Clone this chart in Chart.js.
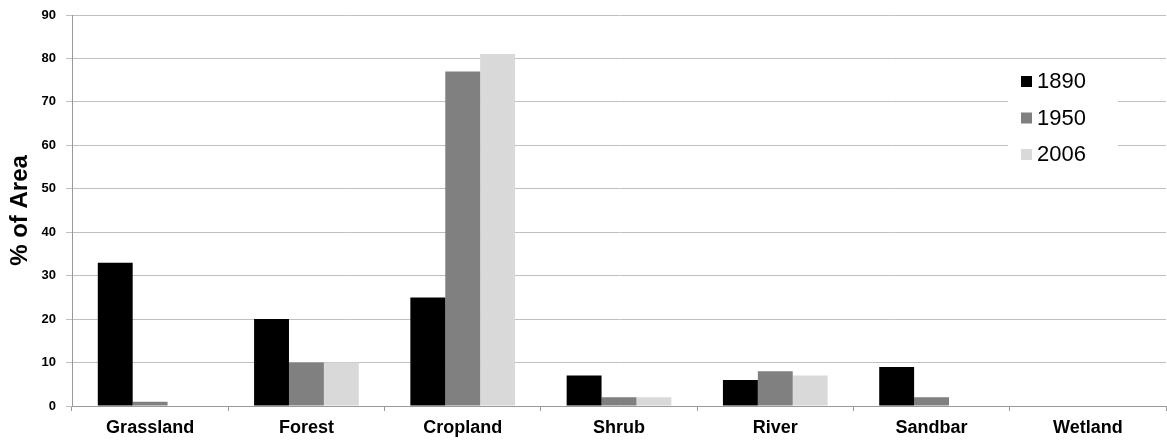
<!DOCTYPE html>
<html>
<head>
<meta charset="utf-8">
<script src="https://cdn.jsdelivr.net/npm/chart.js@4/dist/chart.umd.min.js"></script>
<style>
  html, body { margin: 0; padding: 0; background: #fff; }
  #wrap { width: 1167px; height: 440px; }
</style>
</head>
<body>
<div id="wrap"><canvas id="c" width="1167" height="440"></canvas></div>
<script>
// Land cover categories and share of area (%) by survey year
const categories = ['Grassland', 'Forest', 'Cropland', 'Shrub', 'River', 'Sandbar', 'Wetland'];
const years = ['1890', '1950', '2006'];
const area1890 = [33, 20, 25, 7, 6, 9, 0];
const area1950 = [1, 10, 77, 2, 8, 2, 0];
const area2006 = [0, 10, 81, 2, 7, 0, 0];
const yTicks = [0, 10, 20, 30, 40, 50, 60, 70, 80, 90];

const barColors = ['#000000', '#808080', '#d9d9d9'];
const FONT = '"Liberation Sans", Arial, sans-serif';

// Boxed legend drawn inside the plot area, over the gridlines
const boxLegend = {
  id: 'boxLegend',
  afterDraw(chart) {
    const ctx = chart.ctx;
    ctx.save();
    ctx.fillStyle = '#ffffff';
    ctx.fillRect(1008, 63, 110, 108);
    ctx.font = '22px ' + FONT;
    ctx.textBaseline = 'middle';
    chart.data.datasets.forEach((ds, i) => {
      const y = 81 + i * 36.5;
      ctx.fillStyle = ds.backgroundColor;
      ctx.fillRect(1021, y - 5, 11, 11);
      ctx.fillStyle = '#000000';
      ctx.fillText(ds.label, 1037, y + 1);
    });
    ctx.restore();
  }
};

new Chart(document.getElementById('c'), {
  type: 'bar',
  data: {
    labels: categories,
    datasets: [
      { label: years[0], data: area1890, backgroundColor: barColors[0] },
      { label: years[1], data: area1950, backgroundColor: barColors[1] },
      { label: years[2], data: area2006, backgroundColor: barColors[2] }
    ]
  },
  options: {
    responsive: false,
    animation: false,
    devicePixelRatio: 1,
    categoryPercentage: 0.67,
    barPercentage: 1.0,
    layout: { padding: { top: 15, right: 1, left: 0, bottom: 0 } },
    plugins: {
      legend: { display: false },
      tooltip: { enabled: false }
    },
    scales: {
      x: {
        grid: {
          offset: true,
          drawOnChartArea: false,
          drawTicks: true,
          tickLength: 5,
          color: '#9a9a9a'
        },
        border: { display: true, color: '#9a9a9a', width: 1 },
        ticks: {
          color: '#000000',
          padding: 6,
          maxRotation: 0,
          autoSkip: false,
          font: { family: FONT, size: 18, weight: 'bold' }
        },
        afterFit(scale) { scale.height = 34; }
      },
      y: {
        min: 0,
        max: 90,
        afterBuildTicks(scale) { scale.ticks = yTicks.map(v => ({ value: v })); },
        grid: {
          color: '#c0c0c0',
          drawTicks: true,
          tickLength: 6
        },
        border: { display: true, color: '#9a9a9a', width: 1 },
        ticks: {
          color: '#000000',
          padding: 10,
          font: { family: FONT, size: 13, weight: 'bold' }
        },
        title: {
          display: true,
          text: '% of Area',
          color: '#000000',
          padding: { top: 6, bottom: 0 },
          font: { family: FONT, size: 24, weight: 'bold' }
        },
        afterFit(scale) {
          scale.width = 72;
          scale.paddingTop = 8;
          scale.paddingBottom = 8;
        }
      }
    }
  },
  plugins: [boxLegend]
});
</script>
</body>
</html>
